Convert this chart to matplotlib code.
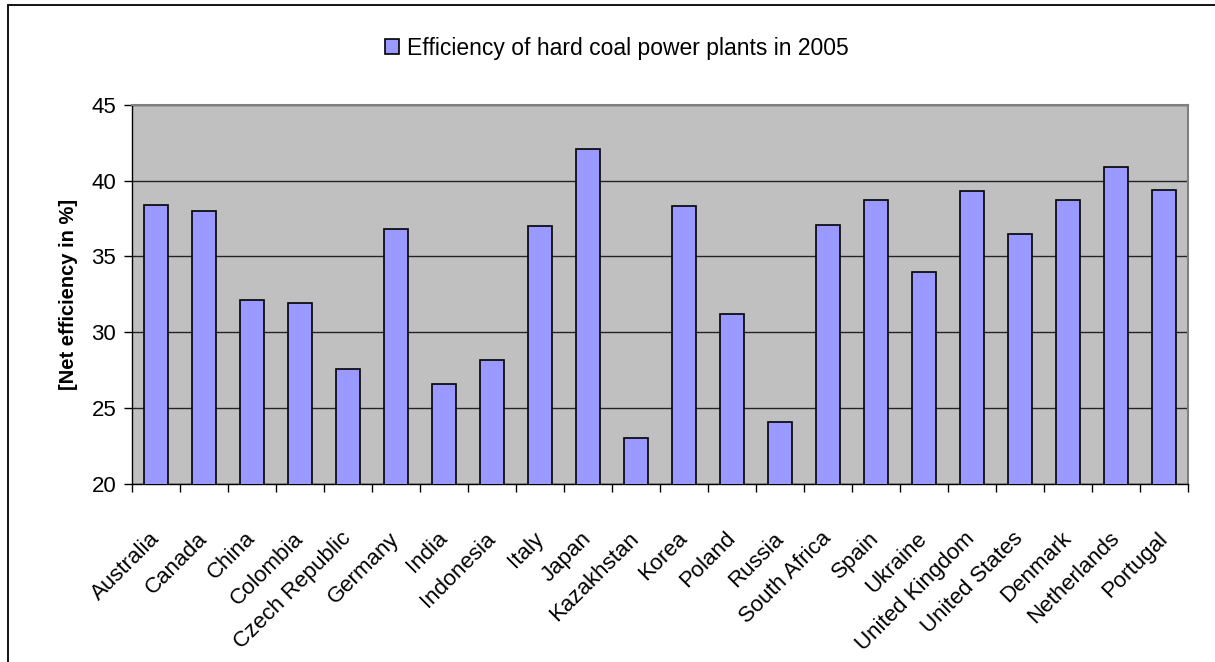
import matplotlib
matplotlib.use("Agg")
import matplotlib.pyplot as plt
from matplotlib.patches import Rectangle
import numpy as np

categories = ["Australia", "Canada", "China", "Colombia", "Czech Republic", "Germany",
              "India", "Indonesia", "Italy", "Japan", "Kazakhstan", "Korea", "Poland",
              "Russia", "South Africa", "Spain", "Ukraine", "United Kingdom",
              "United States", "Denmark", "Netherlands", "Portugal"]
efficiency = [38.4, 38.0, 32.1, 31.9, 27.6, 36.8, 26.6, 28.2, 37.0, 42.1, 23.0, 38.3,
              31.2, 24.1, 37.1, 38.7, 34.0, 39.3, 36.5, 38.7, 40.9, 39.4]
series_label = "Efficiency of hard coal power plants in 2005"
y_ticks = [20, 25, 30, 35, 40, 45]

plt.rcParams['font.family'] = ['Liberation Sans', 'DejaVu Sans']

W, H = 1215, 662
fig = plt.figure(figsize=(W / 100, H / 100), dpi=100)
fig.patch.set_facecolor("white")

left, right, top, bottom = 132.3, 1188, 104.7, 484
ax = fig.add_axes([left / W, 1 - bottom / H, (right - left) / W, (bottom - top) / H])
ax.set_facecolor("#C0C0C0")

x = np.arange(len(categories))
bars = ax.bar(x, efficiency, width=0.5, color="#9999FF", edgecolor="black",
              linewidth=1.2, zorder=3, label=series_label)

ax.set_xlim(-0.5, len(categories) - 0.5)
ax.set_ylim(20, 45)
ax.set_yticks(y_ticks)
ax.set_yticklabels([str(v) for v in y_ticks], fontsize=16)
ax.yaxis.grid(True, color="#222222", linewidth=1.0, zorder=1)
ax.tick_params(axis="y", direction="out", length=5.5, width=1, pad=6)

ax.set_xticks(x)
ax.set_xticklabels(categories, fontsize=16, rotation=45, ha="right",
                   va="center", rotation_mode="anchor")
ax.set_xticks(np.arange(len(categories) + 1) - 0.5, minor=True)
ax.tick_params(axis="x", which="major", length=0, pad=37)
ax.tick_params(axis="x", which="minor", direction="out", length=5.5, width=1)

for side in ["left", "bottom"]:
    ax.spines[side].set_color("black")
    ax.spines[side].set_linewidth(1.0)
for side in ["top", "right"]:
    ax.spines[side].set_color("#808080")
    ax.spines[side].set_linewidth(1.5)

ax.set_ylabel("[Net efficiency in %]", fontsize=14.5, fontweight="bold", labelpad=10)

fig.legend(handles=[bars], labels=[series_label], loc="center",
           bbox_to_anchor=(616.5 / W, 1 - 48 / H), frameon=False, fontsize=16.5,
           handlelength=0.62, handleheight=0.62, handletextpad=0.35)

fig.patches.append(Rectangle((8 / W, -0.05), 1.1, 1 - 5 / H + 0.05,
                             transform=fig.transFigure, fill=False,
                             edgecolor="black", linewidth=1.3))

fig.savefig("out.png", dpi=100)
